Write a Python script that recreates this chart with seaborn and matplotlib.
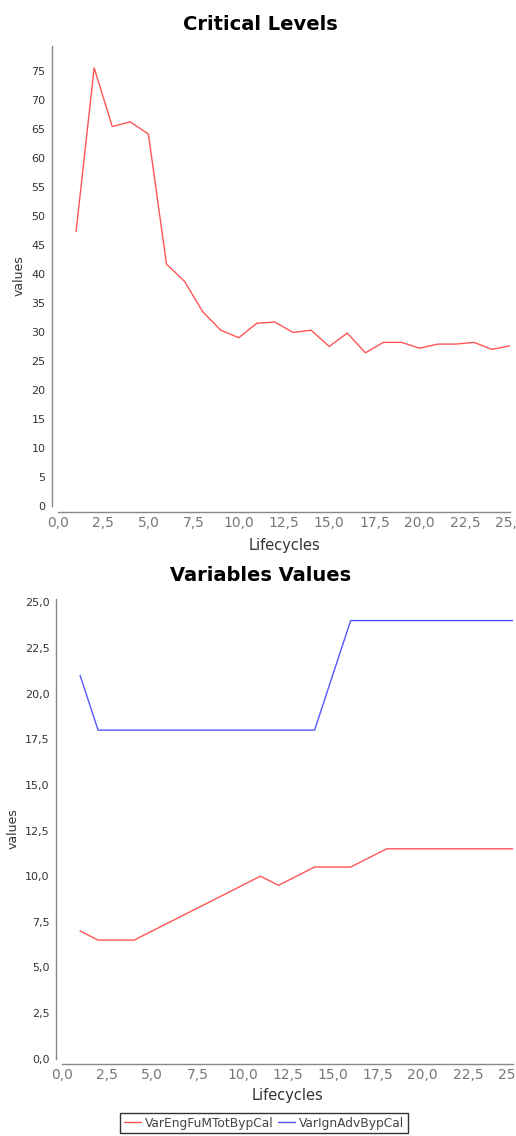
import pandas as pd
import matplotlib.pyplot as plt
import matplotlib.ticker as mticker
import seaborn as sns

# ----------------------------------------------------------------
# Data
# ----------------------------------------------------------------
lifecycles = list(range(1, 26))
critical_levels = [47.3, 75.5, 65.4, 66.2, 64.1, 41.7, 38.7, 33.5, 30.3, 29.0,
                   31.5, 31.7, 29.9, 30.3, 27.5, 29.8, 26.4, 28.2, 28.2, 27.2,
                   27.9, 27.9, 28.2, 27.0, 27.6]
var_eng_fu = [7.0, 6.5, 6.5, 6.5, 7.0, 7.5, 8.0, 8.5, 9.0, 9.5,
              10.0, 9.5, 10.0, 10.5, 10.5, 10.5, 11.0, 11.5, 11.5, 11.5,
              11.5, 11.5, 11.5, 11.5, 11.5]
var_ign_adv = [21.0, 18.0, 18.0, 18.0, 18.0, 18.0, 18.0, 18.0, 18.0, 18.0,
               18.0, 18.0, 18.0, 18.0, 21.0, 24.0, 24.0, 24.0, 24.0, 24.0,
               24.0, 24.0, 24.0, 24.0, 24.0]
series_names = ["VarEngFuMTotBypCal", "VarIgnAdvBypCal"]
series_colors = ["#FF5555", "#5555FF"]

crit_df = pd.DataFrame({"Lifecycles": lifecycles, "values": critical_levels})
var_df = pd.DataFrame({
    "Lifecycles": lifecycles * 2,
    "values": var_eng_fu + var_ign_adv,
    "series": [series_names[0]] * 25 + [series_names[1]] * 25,
})

# ----------------------------------------------------------------
# Style
# ----------------------------------------------------------------
sns.set_style("white")
plt.rcParams["font.family"] = ["DejaVu Sans"]

AXIS_GREY = "#888888"


def comma(fmt):
    return mticker.FuncFormatter(lambda v, p: fmt.format(v).replace(".", ","))


def style_axis(ax, ystep, yfmt, xpad):
    for s in ["top", "right"]:
        ax.spines[s].set_visible(False)
    for s in ["left", "bottom"]:
        ax.spines[s].set_color(AXIS_GREY)
        ax.spines[s].set_linewidth(1.0)
        ax.spines[s].set_position(("outward", 4))
    ax.set_xlim(0, 25)
    ax.xaxis.set_major_locator(mticker.MultipleLocator(2.5))
    ax.yaxis.set_major_locator(mticker.MultipleLocator(ystep))
    ax.xaxis.set_major_formatter(comma("{:.1f}"))
    ax.yaxis.set_major_formatter(comma(yfmt))
    ax.tick_params(axis="x", length=2, width=0.8, color=AXIS_GREY,
                   labelsize=10, labelcolor="#777777", pad=1)
    ax.tick_params(axis="y", length=2, width=0.8, color=AXIS_GREY,
                   labelsize=8, labelcolor="#333333", pad=3)
    ax.set_xlabel("Lifecycles", fontsize=10.5, color="#333333", labelpad=xpad)
    ax.set_ylabel("values", fontsize=9, color="#333333", labelpad=4)


fig = plt.figure(figsize=(5.16, 11.36), dpi=100)

# --- Critical Levels ---
ax1 = fig.add_axes([0.1124, 0.5546, 0.876, 0.405])
sns.lineplot(data=crit_df, x="Lifecycles", y="values", color=series_colors[0],
             linewidth=1.0, ax=ax1)
ax1.set_ylim(0, 79.3)
style_axis(ax1, 5, "{:.0f}", 6)
fig.text(0.504, 0.9785, "Critical Levels", ha="center", va="center",
         fontsize=14, fontweight="bold", color="black")

# --- Variables Values ---
ax2 = fig.add_axes([0.1202, 0.068, 0.874, 0.405])
sns.lineplot(data=var_df, x="Lifecycles", y="values", hue="series",
             palette=series_colors, linewidth=1.0, ax=ax2)
ax2.set_ylim(0, 25.2)
style_axis(ax2, 2.5, "{:.1f}", 4)
fig.text(0.504, 0.493, "Variables Values", ha="center", va="center",
         fontsize=14, fontweight="bold", color="black")

handles, labels = ax2.get_legend_handles_labels()
ax2.get_legend().remove()
leg = fig.legend(handles, labels, loc="upper center",
                 bbox_to_anchor=(0.512, 1 - 1113 / 1136),
                 ncol=2, frameon=True, fancybox=False, fontsize=8.8,
                 handlelength=1.4, handletextpad=0.3, columnspacing=0.4,
                 borderpad=0.3, borderaxespad=0)
leg.get_frame().set_edgecolor("black")
leg.get_frame().set_linewidth(1.0)
for t in leg.get_texts():
    t.set_color("#444444")

fig.savefig("out.png", dpi=100)
